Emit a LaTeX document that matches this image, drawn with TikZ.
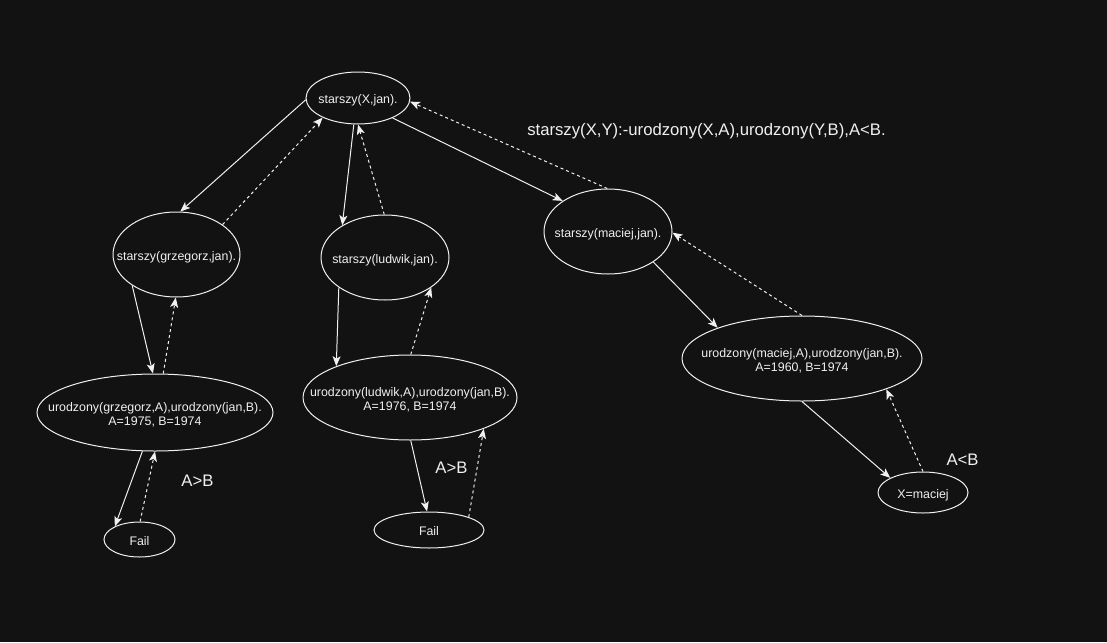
\documentclass[tikz,border=0pt]{standalone}
\usepackage{fontspec}
\setmainfont{Liberation Sans}
\usetikzlibrary{
  arrows.meta,
  shapes.geometric
}
\definecolor{bgdark}{HTML}{121212}
\definecolor{ink}{HTML}{F0F0F0}
\newcommand{\gtext}[1]{\makebox[0pt]{\raisebox{-3pt}[\height][\depth]{\begin{tabular}{@{}c@{}}#1\end{tabular}}}}

\begin{document}
\begin{tikzpicture}[
  x=1pt, y=-1pt,
  goal/.style={draw=ink, ellipse, inner sep=0pt, text=ink, line width=1pt,
    font=\fontsize{12.4}{14}\selectfont},
  call/.style={-{Stealth[length=10pt, width=8pt, inset=2.5pt]}, draw=ink, line width=1pt},
  back/.style={call, dash pattern=on 3pt off 3pt},
  note/.style={text=ink, font=\fontsize{16.7}{20}\selectfont}
]
  \fill[bgdark] (0,0) rectangle (1107,642);
  \useasboundingbox (0,0) rectangle (1107,642);

  % --- Query ---
  \node[goal, minimum width=104pt, minimum height=52pt] (root) at (358,98) {\gtext{starszy(X,jan).}};
  \node[note] (rule) at (706.5,131) {starszy(X,Y):-urodzony(X,A),urodzony(Y,B),A<B.};

  % --- Candidates ---
  \node[goal, minimum width=127pt, minimum height=85pt] (grz) at (176.5,254.5) {\gtext{starszy(grzegorz,jan).}};
  \node[goal, minimum width=128pt, minimum height=85pt] (lud) at (385,257.5) {\gtext{starszy(ludwik,jan).}};
  \node[goal, minimum width=128pt, minimum height=85pt] (mac) at (608,231.5) {\gtext{starszy(maciej,jan).}};

  % --- Subgoals ---
  \node[goal, minimum width=236pt, minimum height=77pt] (urgrz) at (155,412.5)
    {\gtext{urodzony(grzegorz,A),urodzony(jan,B).\\A=1975, B=1974}};
  \node[goal, minimum width=214pt, minimum height=85pt] (urlud) at (410,397.5)
    {\gtext{urodzony(ludwik,A),urodzony(jan,B).\\A=1976, B=1974}};
  \node[goal, minimum width=240pt, minimum height=85pt] (urmac) at (802,358.5)
    {\gtext{urodzony(maciej,A),urodzony(jan,B).\\A=1960, B=1974}};

  % --- Results ---
  \node[goal, minimum width=71pt, minimum height=35pt] (failgrz) at (139.5,539.5) {\gtext{Fail}};
  \node[goal, minimum width=110pt, minimum height=36pt] (faillud) at (429,530) {\gtext{Fail}};
  \node[goal, minimum width=90pt, minimum height=41pt] (okmac) at (923,492.5) {\gtext{X=maciej}};

  \node[note] (condgrz) at (197.5,481) {A>B};
  \node[note] (condlud) at (451.5,468) {A>B};
  \node[note] (condmac) at (962.5,460) {A<B};

  % --- Arrows: query ---
  \draw[call] (root.182) -- (grz.85.5);
  \draw[back] (grz.33) -- (root.209);
  \draw[call] (root.261) -- (lud.143);
  \draw[back] (lud.91) -- (root.270);
  \draw[call] (root.330) -- (mac.146);
  \draw[back] (mac.91) -- (root.356);

  % --- Arrows: subgoals ---
  \draw[call] (grz.215) -- (urgrz.93);
  \draw[back] (urgrz.78) -- (grz.269);
  \draw[call] (lud.213) -- (urlud.157);
  \draw[back] (urlud.89) -- (lud.327);
  \draw[call] (mac.326) -- (urmac.160);
  \draw[back] (urmac.90) -- (mac.359);

  % --- Arrows: results ---
  \draw[call] (urgrz.252) -- (failgrz.152);
  \draw[back] (failgrz.88) -- (urgrz.270);
  \draw[call] (urlud.271) -- (faillud.96);
  \draw[back] (faillud.18) -- (urlud.337);
  \draw[call] (urmac.270) -- (okmac.156);
  \draw[back] (okmac.90) -- (urmac.340);
\end{tikzpicture}
\end{document}
